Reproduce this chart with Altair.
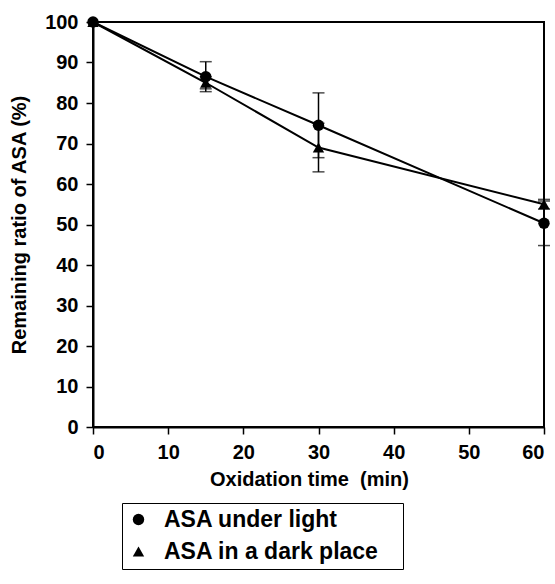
import altair as alt
import pandas as pd

times = [0, 15, 30, 60]
light = [100, 86.5, 74.5, 50.3]
light_err = [0, 3.7, 8.0, 5.5]
dark = [100, 85.0, 69.0, 55.0]
dark_err = [0, 1.5, 6.0, 1.2]
series = ["ASA under light", "ASA in a dark place"]
x_ticks = [0, 10, 20, 30, 40, 50, 60]
y_ticks = [0, 10, 20, 30, 40, 50, 60, 70, 80, 90, 100]

rows = []
for s, vals, errs in [(series[0], light, light_err), (series[1], dark, dark_err)]:
    for t, v, e in zip(times, vals, errs):
        rows.append({"time": t, "ratio": v, "lo": v - e, "hi": v + e, "err": e, "series": s})
df = pd.DataFrame(rows)

FONT = "Liberation Sans"
YTITLE = "Remaining ratio of ASA (%)"

xenc = alt.X("time:Q", scale=alt.Scale(domain=[0, 60], nice=False),
             axis=alt.Axis(values=x_ticks, title="Oxidation time\u00a0 (min)",
                           labelPadding=8, titlePadding=7, titleX=216))
def yaxis():
    return alt.Axis(values=y_ticks, title=YTITLE, labelPadding=8, titlePadding=15)
yscale = alt.Scale(domain=[0, 100], nice=False)

base = alt.Chart(df)

lines = base.mark_line(color="black", strokeWidth=2).encode(
    x=xenc, y=alt.Y("ratio:Q", scale=yscale, axis=yaxis()), detail="series:N")

errs = base.transform_filter("datum.err > 0").mark_errorbar(
    ticks=True, size=12, thickness=1.5, color="black").encode(
    x=xenc, y=alt.Y("lo:Q", scale=yscale, axis=yaxis()), y2="hi:Q")

points = base.mark_point(filled=True, size=130, opacity=1, color="black").encode(
    x=xenc, y=alt.Y("ratio:Q", scale=yscale, axis=yaxis()),
    shape=alt.Shape("series:N", scale=alt.Scale(domain=series, range=["circle", "triangle-up"]),
                    legend=alt.Legend(title=None, orient="none", legendX=29, legendY=481,
                                      strokeColor="black", fillColor="white", padding=5,
                                      labelFont=FONT, labelFontSize=23, labelFontWeight="bold",
                                      labelColor="black", symbolSize=130, symbolFillColor="black",
                                      symbolStrokeColor="black", labelOffset=14, rowPadding=8,
                                      labelLimit=500,
                                      labelExpr="datum.label + '\u00a0\u00a0\u00a0\u200b'")))

chart = alt.layer(lines, errs, points).properties(
    width=451, height=405,
    autosize=alt.AutoSizeParams(type="none"),
    padding={"left": 93, "top": 22, "right": 11, "bottom": 157},
    background="white",
).configure_view(stroke="black", strokeWidth=2).configure_axis(
    domainColor="black", domainWidth=2, tickColor="black", tickWidth=1.5, tickSize=7,
    labelFont=FONT, labelFontSize=20, labelFontWeight="bold", labelColor="black",
    titleFont=FONT, titleFontSize=20, titleFontWeight="bold", titleColor="black", grid=False,
)

chart.save("out.html", embed_options={"renderer": "svg", "actions": False})
